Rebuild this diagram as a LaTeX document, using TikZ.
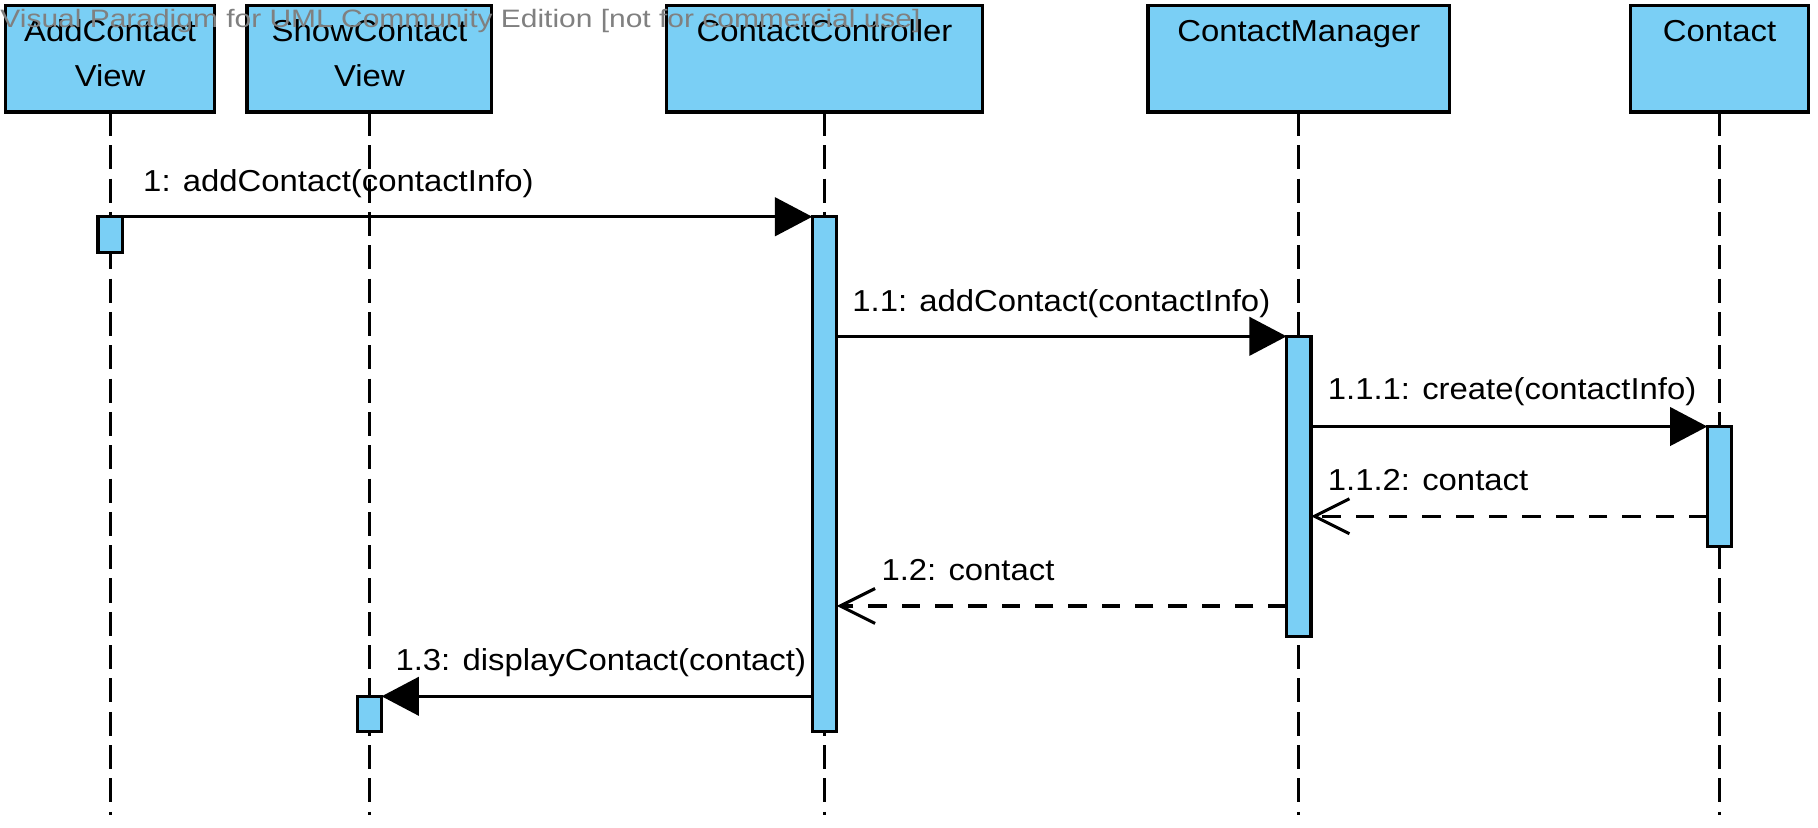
\documentclass[tikz,border=0pt]{standalone}
\usepackage{fontspec}
\setmainfont{Liberation Sans}[FakeStretch=1.085]
\newfontfamily\vpfont{Liberation Sans}[FakeStretch=1.19]
\usetikzlibrary{positioning}
\usetikzlibrary{arrows.meta}
\definecolor{objblue}{RGB}{122,207,245}
\definecolor{vpgray}{RGB}{128,128,128}

\begin{document}
\begin{tikzpicture}[x=0.5pt,y=-0.5pt,
	objbox/.style={draw=black, fill=objblue, line width=1.4pt, inner sep=0pt, outer sep=0pt, minimum height=45.5pt},
	objname/.style={inner sep=0pt, align=center, font=\fontsize{13pt}{19pt}\selectfont},
	actbar/.style={draw=black, fill=objblue, line width=1.4pt, inner sep=0pt, outer sep=0pt, minimum width=10.5pt},
	lifeline/.style={line width=1.2pt, dash pattern=on 10.3pt off 4pt},
	call/.style={line width=1.3pt, -{Triangle[length=16pt,width=16.5pt]}},
	reply/.style={line width=1.3pt, dash pattern=on 7.9pt off 6.4pt, -{Straight Barb[length=15pt,width=15pt]}},
	msg/.style={inner sep=0pt, anchor=base west, font=\fontsize{13pt}{17pt}\selectfont},
	watermark/.style={inner sep=0pt, anchor=base west, text=vpgray, font=\vpfont\fontsize{10.8pt}{13pt}\selectfont}]
	\useasboundingbox (0,0) rectangle (1560,710.5);
	
	%object boxes
	\node[objbox, minimum width=89.5pt] (addview) at (94.5,50.5) {};
	\node[objbox, minimum width=105pt] (showview) at (317,50.5) {};
	\node[objbox, minimum width=135.5pt] (ctrl) at (707.5,50.5) {};
	\node[objbox, minimum width=129.5pt] (mgr) at (1114.5,50.5) {};
	\node[objbox, minimum width=76.5pt] (contact) at (1475.5,50.5) {};
	
	\node[objname, below=5.9pt of addview.north] (addname) {AddContact\\View};
	\node[objname, below=5.9pt of showview.north] (showname) {ShowContact\\View};
	\node[objname, below=5.9pt of ctrl.north] (ctrlname) {ContactController};
	\node[objname, below=5.9pt of mgr.north] (mgrname) {ContactManager};
	\node[objname, below=5.9pt of contact.north] (contactname) {Contact};
	
	%draw lifelines
	\coordinate (bottom) at (0,699.5);
	\foreach \o in {addview,showview,ctrl,mgr,contact}
	\draw[lifeline] (\o.south) -- (\o.south |- bottom);
	
	%activation bars
	\node[actbar, minimum height=15.35pt, below=45pt of addview.south] (addbar) {};
	\node[actbar, minimum height=221pt, below=45pt of ctrl.south] (ctrlbar) {};
	\node[actbar, minimum height=128.7pt, below=96.3pt of mgr.south] (mgrbar) {};
	\node[actbar, minimum height=51.5pt, below=135pt of contact.south] (contactbar) {};
	\node[actbar, minimum height=15.25pt, below=250.75pt of showview.south] (showbar) {};
	
	%messages
	\draw[call] (addbar.north east) -- (ctrlbar.north west);
	\draw[call] (mgrbar.north west -| ctrlbar.east) -- (mgrbar.north west);
	\draw[call] (contactbar.north west -| mgrbar.east) -- (contactbar.north west);
	\coordinate (ret112) at ([yshift=13pt]contactbar.south west);
	\draw[reply] (ret112) -- (ret112 -| mgrbar.east);
	\coordinate (ret12) at ([yshift=13pt]mgrbar.south west);
	\draw[reply] (ret12) -- (ret12 -| ctrlbar.east);
	\draw[call] (showbar.north east -| ctrlbar.west) -- (showbar.north east);
	
	%message labels
	\node[msg] (m1) at (122.5,164) {1: addContact(contactInfo)};
	\node[msg] (m11) at (731,267) {1.1: addContact(contactInfo)};
	\node[msg] (m111) at (1139,343) {1.1.1: create(contactInfo)};
	\node[msg] (m112) at (1139,421) {1.1.2: contact};
	\node[msg] (m12) at (756,498) {1.2: contact};
	\node[msg] (m13) at (339,575) {1.3: displayContact(contact)};
	
	\node[watermark] (vp) at (0,23.4) {Visual Paradigm for UML Community Edition [not for commercial use]};
\end{tikzpicture}
\end{document}
